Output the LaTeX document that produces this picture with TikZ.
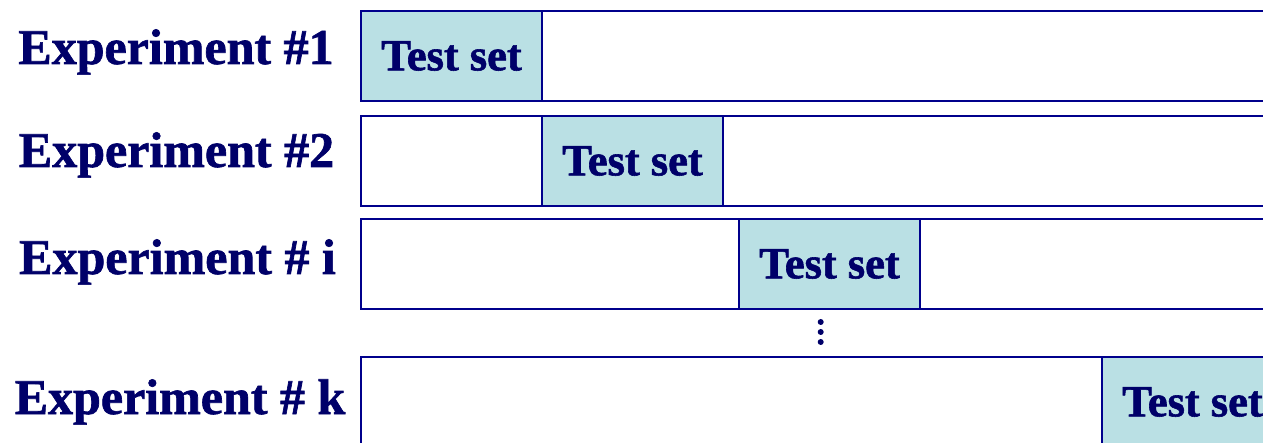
\documentclass[tikz,border=0pt]{standalone}
\usepackage{fontspec}
\setmainfont{Liberation Serif}
\newfontfamily\heavy[FakeBold=1.3]{Liberation Serif Bold}
\definecolor{navy}{RGB}{0,0,105}
\definecolor{edge}{RGB}{0,0,140}
\definecolor{testfill}{RGB}{186,224,228}
\begin{document}
\begin{tikzpicture}[x=1pt,y=-1pt,
  rowbox/.style={draw=edge,line width=2pt,fill=white,rectangle,anchor=north west,
    minimum width=960pt,minimum height=90pt,inner sep=0pt,outer sep=0pt},
  testbox/.style={draw=edge,line width=1.5pt,fill=testfill,rectangle,anchor=north west,
    minimum width=181pt,minimum height=90pt,inner sep=0pt,outer sep=0pt,
    font=\fontsize{44.5}{44.5}\heavy,text=navy},
  explabel/.style={font=\fontsize{50}{50}\heavy,text=navy,anchor=base,inner sep=0pt}]
\useasboundingbox (0,0) rectangle (1263,443);
\clip (0,0) rectangle (1263,443);
\fill[white] (0,0) rectangle (1263,443);

% one bar per experiment
\node[rowbox] (r1) at (361,11) {};
\node[rowbox] (r2) at (361,116) {};
\node[rowbox] (r3) at (361,219) {};
\node[rowbox] (rk) at (361,357) {};

% the held-out fold of each bar
\node[testbox] (t1) at (361,11) {Test set};
\node[testbox] (t2) at (542,116) {Test set};
\node[testbox] (t3) at (739,219) {Test set};
\node[testbox] (tk) at (1102,357) {Test set};

% experiment names
\node[explabel] (l1) at (176,64) {Experiment \#1};
\node[explabel] (l2) at (176.5,167) {Experiment \#2};
\node[explabel] (l3) at (177.5,274) {Experiment \# i};
\node[explabel] (lk) at (180,414) {Experiment \# k};

% vertical ellipsis
\foreach \yy in {322,332,342}
  \fill[navy] (820.7,\yy) circle (3pt);
\end{tikzpicture}
\end{document}
